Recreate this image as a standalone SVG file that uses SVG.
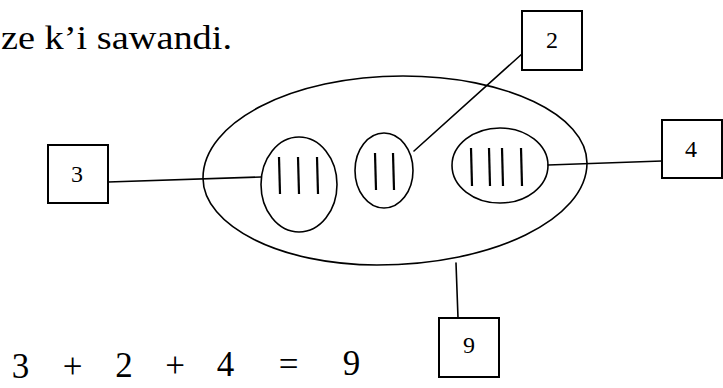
<svg xmlns="http://www.w3.org/2000/svg" width="723" height="388" viewBox="0 0 723 388">
<style>
.ln{stroke:#000;stroke-width:1.6;fill:none;stroke-linecap:round}
.bx{stroke:#000;stroke-width:2;fill:#fff}
.bar{stroke:#000;stroke-width:2.2;fill:none}
text{font-family:'Liberation Serif','Times New Roman','DejaVu Serif',serif;fill:#000}
.bt{font-size:24px;text-anchor:middle}
.eq{font-size:35px;text-anchor:middle}
</style>
<text x="1" y="49" font-size="34" textLength="231" lengthAdjust="spacingAndGlyphs">ze k’i sawandi.</text>
<g id="connectors">
<line class="ln" x1="108" y1="182" x2="261" y2="177"/>
<line class="ln" x1="414" y1="151" x2="523" y2="53"/>
<line class="ln" x1="548" y1="165" x2="662" y2="161"/>
<line class="ln" x1="456" y1="263" x2="458" y2="318"/>
</g>
<g id="outer">
<path class="ln" d="M203,178 C203,122 292,76 403,76 C506,76 587,115 587,163 C587,219 493,265 377,265 C281,265 203,226 203,178 Z"/>
</g>
<g id="group3">
<ellipse class="ln" cx="299" cy="184.5" rx="38" ry="47.5"/>
<line class="bar" x1="279" y1="157" x2="280" y2="194"/>
<line class="bar" x1="298" y1="157" x2="299" y2="194"/>
<line class="bar" x1="317" y1="157" x2="318" y2="194"/>
</g>
<g id="group2">
<ellipse class="ln" cx="384" cy="170.5" rx="29" ry="37.5"/>
<line class="bar" x1="375" y1="153" x2="376" y2="190"/>
<line class="bar" x1="393" y1="153" x2="394" y2="190"/>
</g>
<g id="group4">
<ellipse class="ln" cx="500" cy="165.5" rx="48" ry="37.5"/>
<line class="bar" x1="471" y1="148" x2="472" y2="186"/>
<line class="bar" x1="489" y1="148" x2="490" y2="186"/>
<line class="bar" x1="502" y1="148" x2="503" y2="186"/>
<line class="bar" x1="521" y1="148" x2="522" y2="186"/>
</g>
<g id="box3">
<rect class="bx" x="48" y="145" width="60" height="58"/>
<text class="bt" x="77" y="182">3</text>
</g>
<g id="box2">
<rect class="bx" x="522" y="11" width="60" height="59"/>
<text class="bt" x="552" y="48">2</text>
</g>
<g id="box4">
<rect class="bx" x="662" y="120" width="60" height="58"/>
<text class="bt" x="691" y="157">4</text>
</g>
<g id="box9">
<rect class="bx" x="439" y="318" width="60" height="59"/>
<text class="bt" x="469" y="353">9</text>
</g>
<g id="equation">
<text class="eq" x="20.5" y="378">3</text>
<text class="eq" x="72.5" y="378">+</text>
<text class="eq" x="124" y="377">2</text>
<text class="eq" x="175" y="377">+</text>
<text class="eq" x="225.5" y="376">4</text>
<text class="eq" x="288.5" y="376">=</text>
<text class="eq" x="351.5" y="375">9</text>
</g>
</svg>
